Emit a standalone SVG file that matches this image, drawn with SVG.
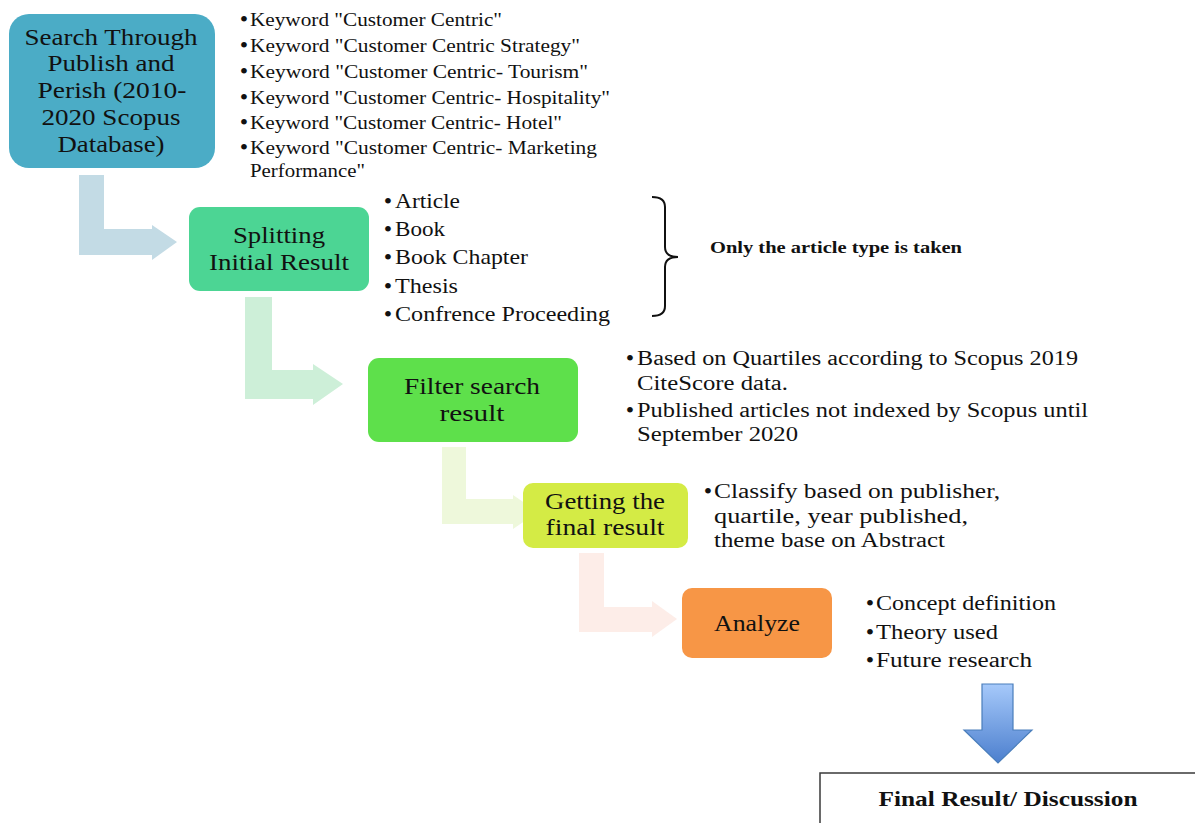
<svg xmlns="http://www.w3.org/2000/svg" width="1195" height="823" viewBox="0 0 1195 823">
<style>
text{font-family:"Liberation Serif","DejaVu Serif",serif;fill:#111}
.c{text-anchor:middle}
.b{font-weight:bold;font-family:"Liberation Serif","Times New Roman",serif}
.s18{font-size:18px}.s20{font-size:20px}.s21{font-size:21px}.s23{font-size:23px}
.d{font-size:24px;text-anchor:middle}
</style>
<defs>
<linearGradient id="gd" x1="0" y1="0" x2="0" y2="1">
<stop offset="0" stop-color="#A6C9FA"/>
<stop offset="1" stop-color="#4C7FCE"/>
</linearGradient>
</defs>
<rect width="1195" height="823" fill="#fff"/>
<g id="connectors">
<path d="M79,175 H104 V229 H152 V225 L177,242 L152,260 V255 H79 Z" fill="#C3DBE5"/>
<path d="M245,297 H272 V370 H313 V364 L343,384 L313,405 V399 H245 Z" fill="#CDEFD8"/>
<path d="M442,447 H466 V499 H513 V495 L538,512 L513,529 V524 H442 Z" fill="#EEF8DB"/>
<path d="M579,553 H604 V607 H652 V601 L677,619 L652,637 V632 H579 Z" fill="#FDEDE8"/>
<polygon points="982,684 1013,684 1013,730 1032,730 998,763 964,730 982,730" fill="url(#gd)" stroke="#4A7EBB" stroke-width="1.2"/>
<path d="M652,197 Q665,197 665,207 V247 Q665,257 678,257 Q665,257 665,267 V306 Q665,316 652,316" fill="none" stroke="#111" stroke-width="2"/>
</g>
<g id="node-search">
<rect x="9" y="14" width="206" height="154" rx="20" fill="#4BACC6"/>
<text class="c s23" x="111" y="45" textLength="173" lengthAdjust="spacingAndGlyphs">Search Through</text>
<text class="c s23" x="111" y="71" textLength="127" lengthAdjust="spacingAndGlyphs">Publish and</text>
<text class="c s23" x="112" y="98" textLength="149" lengthAdjust="spacingAndGlyphs">Perish (2010-</text>
<text class="c s23" x="111" y="125" textLength="139" lengthAdjust="spacingAndGlyphs">2020 Scopus</text>
<text class="c s23" x="111" y="152" textLength="107" lengthAdjust="spacingAndGlyphs">Database)</text>
</g>
<g id="list-keywords" class="s18">
<text class="d" x="244" y="27">•</text><text x="250" y="26" textLength="252" lengthAdjust="spacingAndGlyphs">Keyword "Customer Centric"</text>
<text class="d" x="244" y="53">•</text><text x="250" y="52" textLength="330" lengthAdjust="spacingAndGlyphs">Keyword "Customer Centric Strategy"</text>
<text class="d" x="244" y="79">•</text><text x="250" y="78" textLength="338" lengthAdjust="spacingAndGlyphs">Keyword "Customer Centric- Tourism"</text>
<text class="d" x="244" y="105">•</text><text x="250" y="104" textLength="360" lengthAdjust="spacingAndGlyphs">Keyword "Customer Centric- Hospitality"</text>
<text class="d" x="244" y="130">•</text><text x="250" y="129" textLength="312" lengthAdjust="spacingAndGlyphs">Keyword "Customer Centric- Hotel"</text>
<text class="d" x="244" y="155">•</text><text x="250" y="154" textLength="347" lengthAdjust="spacingAndGlyphs">Keyword "Customer Centric- Marketing</text>
<text x="250" y="177" textLength="115" lengthAdjust="spacingAndGlyphs">Performance"</text>
</g>
<g id="node-splitting">
<rect x="189" y="207" width="180" height="84" rx="11" fill="#4CD594"/>
<text class="c s23" x="279" y="243" textLength="92" lengthAdjust="spacingAndGlyphs">Splitting</text>
<text class="c s23" x="279" y="270" textLength="140" lengthAdjust="spacingAndGlyphs">Initial Result</text>
</g>
<g id="list-types" class="s21">
<text class="d" x="388" y="209">•</text><text x="395" y="208" textLength="65" lengthAdjust="spacingAndGlyphs">Article</text>
<text class="d" x="388" y="237">•</text><text x="395" y="236" textLength="50" lengthAdjust="spacingAndGlyphs">Book</text>
<text class="d" x="388" y="265">•</text><text x="395" y="264" textLength="133" lengthAdjust="spacingAndGlyphs">Book Chapter</text>
<text class="d" x="388" y="294">•</text><text x="395" y="293" textLength="63" lengthAdjust="spacingAndGlyphs">Thesis</text>
<text class="d" x="388" y="322">•</text><text x="395" y="321" textLength="215" lengthAdjust="spacingAndGlyphs">Confrence Proceeding</text>
</g>
<g id="note-article">
<text class="b" x="710" y="253" font-size="17" textLength="252" lengthAdjust="spacingAndGlyphs">Only the article type is taken</text>
</g>
<g id="node-filter">
<rect x="368" y="358" width="210" height="84" rx="11" fill="#5EE04B"/>
<text class="c s23" x="472" y="394" textLength="136" lengthAdjust="spacingAndGlyphs">Filter search</text>
<text class="c s23" x="472" y="421" textLength="65" lengthAdjust="spacingAndGlyphs">result</text>
</g>
<g id="list-filter" class="s20">
<text class="d" x="630" y="366">•</text><text x="637" y="365" textLength="441" lengthAdjust="spacingAndGlyphs">Based on Quartiles according to Scopus 2019</text>
<text x="637" y="390" textLength="151" lengthAdjust="spacingAndGlyphs">CiteScore data.</text>
<text class="d" x="630" y="418">•</text><text x="637" y="417" textLength="451" lengthAdjust="spacingAndGlyphs">Published articles not indexed by Scopus until</text>
<text x="637" y="441" textLength="161" lengthAdjust="spacingAndGlyphs">September 2020</text>
</g>
<g id="node-getting">
<rect x="523" y="483" width="165" height="65" rx="10" fill="#D4EB45"/>
<text class="c s23" x="605" y="509" textLength="120" lengthAdjust="spacingAndGlyphs">Getting the</text>
<text class="c s23" x="605" y="535" textLength="119" lengthAdjust="spacingAndGlyphs">final result</text>
</g>
<g id="list-classify" class="s20">
<text class="d" x="708" y="499">•</text><text x="714" y="498" textLength="286" lengthAdjust="spacingAndGlyphs">Classify based on publisher,</text>
<text x="714" y="523" textLength="254" lengthAdjust="spacingAndGlyphs">quartile, year published,</text>
<text x="714" y="547" textLength="231" lengthAdjust="spacingAndGlyphs">theme base on Abstract</text>
</g>
<g id="node-analyze">
<rect x="682" y="588" width="150" height="70" rx="10" fill="#F79646"/>
<text class="c s23" x="757" y="631" textLength="86" lengthAdjust="spacingAndGlyphs">Analyze</text>
</g>
<g id="list-analyze" class="s20">
<text class="d" x="870" y="611">•</text><text x="876" y="610" textLength="180" lengthAdjust="spacingAndGlyphs">Concept definition</text>
<text class="d" x="870" y="640">•</text><text x="876" y="639" textLength="122" lengthAdjust="spacingAndGlyphs">Theory used</text>
<text class="d" x="870" y="668">•</text><text x="876" y="667" textLength="156" lengthAdjust="spacingAndGlyphs">Future research</text>
</g>
<g id="node-final">
<rect x="820" y="773" width="400" height="80" fill="#fff" stroke="#3a3a3a" stroke-width="1.5"/>
<text class="b c" x="1008" y="806" font-size="21" textLength="259" lengthAdjust="spacingAndGlyphs">Final Result/ Discussion</text>
</g>
</svg>
